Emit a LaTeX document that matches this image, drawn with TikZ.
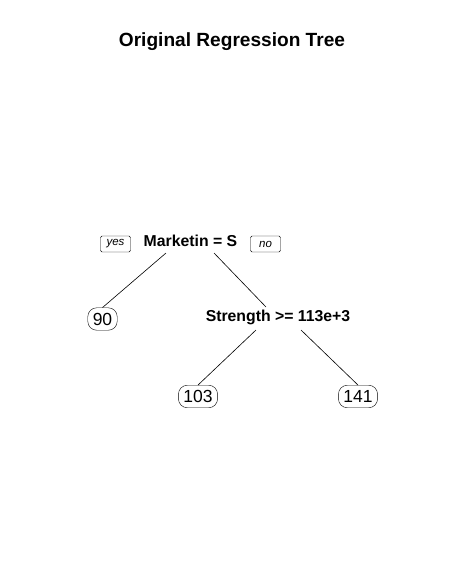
\documentclass[tikz,border=0pt]{standalone}
\usepackage{fontspec}
\setmainfont{Liberation Sans}
\begin{document}
\begin{tikzpicture}[x=1pt,y=-1pt,
  split/.style={font=\fontsize{15.8}{18}\selectfont\bfseries, inner sep=1pt},
  leaf/.style={draw, rounded corners=9pt, font=\fontsize{17.5}{20}\selectfont, inner xsep=5pt, inner ysep=2pt, minimum height=22.5pt},
  tag/.style={draw, rounded corners=1.5pt, font=\fontsize{11.5}{13}\selectfont\itshape, inner xsep=3pt, inner ysep=1.5pt, minimum width=30pt, minimum height=16pt},
  edge/.style={line width=0.6pt}]
\useasboundingbox (0,0) rectangle (464,582);
\node[font=\fontsize{19.1}{22}\selectfont\bfseries] (title) at (232,42) {Original Regression Tree};
\node[split] (root) at (190.5,241) {Marketin = S};
\node[tag] (yes) at (115.5,244) {yes};
\node[tag] (no) at (265.5,244) {no};
\node[leaf] (l90) at (102.5,319) {90};
\node[split] (s2) at (278,317) {Strength >= 113e+3};
\node[leaf] (l103) at (198,396.5) {103};
\node[leaf] (l141) at (358,396.5) {141};
\coordinate (r1) at (166,253);
\coordinate (r2) at (214,253);
\coordinate (r2end) at (266,307);
\coordinate (s2a) at (256,330);
\coordinate (s2b) at (301,330);
\draw[edge] (r1) -- (l90.north);
\draw[edge] (r2) -- (r2end);
\draw[edge] (s2a) -- (l103.north);
\draw[edge] (s2b) -- (l141.north);
\end{tikzpicture}
\end{document}
